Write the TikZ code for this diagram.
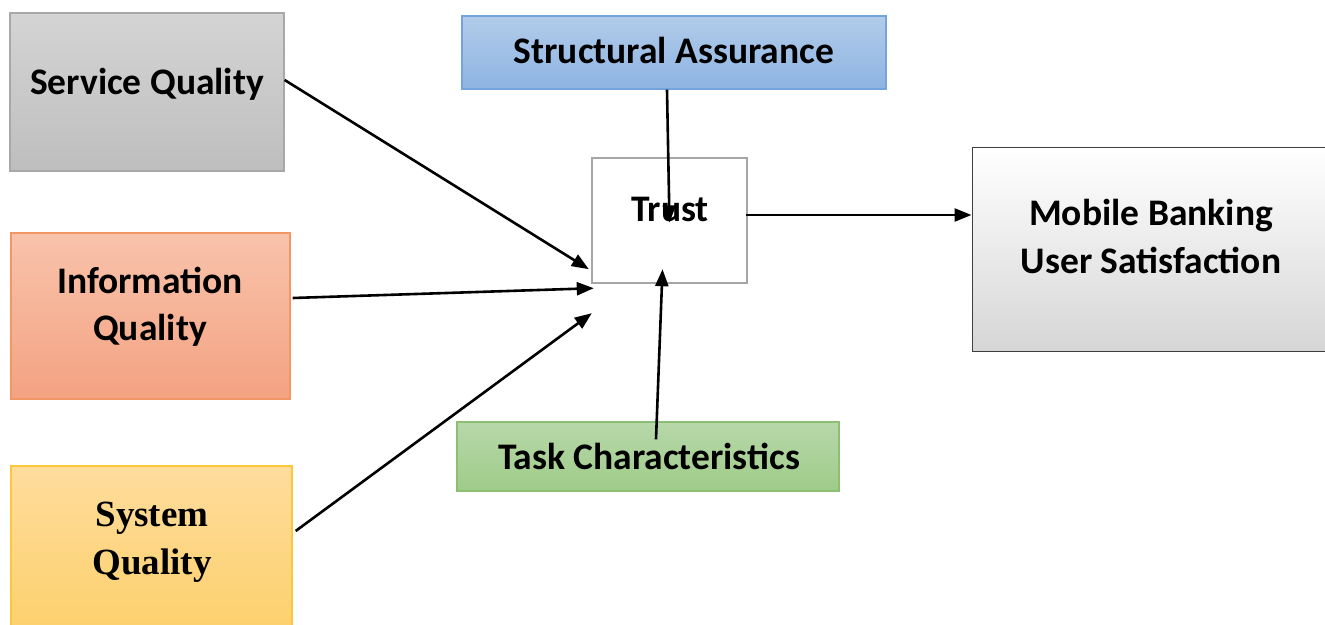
\documentclass[tikz,border=0pt]{standalone}
\usepackage{fontspec}
\setmainfont{Carlito}
\newfontfamily\tnr{Liberation Serif}
\usetikzlibrary{arrows.meta}
\definecolor{sqtop}{HTML}{D4D4D4}\definecolor{sqbot}{HTML}{BEBEBE}\definecolor{sqbd}{HTML}{A8A8A8}
\definecolor{iqtop}{HTML}{F8C3AB}\definecolor{iqbot}{HTML}{F4A282}\definecolor{iqbd}{HTML}{F29664}
\definecolor{sytop}{HTML}{FEDC9C}\definecolor{sybot}{HTML}{FDD06A}\definecolor{sybd}{HTML}{FBC83C}
\definecolor{satop}{HTML}{B2CCEA}\definecolor{sabot}{HTML}{8DB3E2}\definecolor{sabd}{HTML}{73A4DC}
\definecolor{tctop}{HTML}{B7D8A9}\definecolor{tcbot}{HTML}{9FCB89}\definecolor{tcbd}{HTML}{8CBE74}
\definecolor{trbd}{HTML}{A6A6A6}\definecolor{mbbot}{HTML}{D6D6D6}\definecolor{mbbd}{HTML}{3F3F3F}
\tikzset{
  box/.style={rectangle, inner sep=0pt, line width=1.3pt},
  lbl/.style={anchor=base, inner sep=0pt, font=\fontsize{37.5}{44}\selectfont\bfseries},
  slbl/.style={anchor=base, inner sep=0pt, font=\fontsize{37}{44}\selectfont\tnr\bfseries},
  arr/.style={line width=2.6pt, -{Triangle[length=17pt,width=13pt]}}
}
\begin{document}
\begin{tikzpicture}[x=1pt,y=-1pt]
\useasboundingbox (0,0) rectangle (1325,624);
\clip (0,0) rectangle (1325,624);
\fill[white] (0,0) rectangle (1325,624);
% boxes
\node[box, draw=sqbd, top color=sqtop, bottom color=sqbot, minimum width=274pt, minimum height=158pt] (sq) at (147,92) {};
\node[box, draw=iqbd, top color=iqtop, bottom color=iqbot, minimum width=279pt, minimum height=166pt] (iq) at (150.5,316) {};
\node[box, draw=sybd, top color=sytop, bottom color=sybot, minimum width=281pt, minimum height=174pt] (syq) at (151.5,553) {};
\node[box, draw=sabd, top color=satop, bottom color=sabot, minimum width=424pt, minimum height=73pt] (sa) at (674,52.5) {};
\node[box, draw=trbd, fill=white, line width=2.4pt, minimum width=155pt, minimum height=125pt] (tr) at (669.5,220.5) {};
\node[box, draw=tcbd, top color=tctop, bottom color=tcbot, minimum width=382pt, minimum height=69pt] (tc) at (648,456.5) {};
\node[box, draw=mbbd, top color=white, middle color=white, bottom color=mbbot, line width=1pt, minimum width=358pt, minimum height=204pt] (mb) at (1151,249) {};
% texts
\node[lbl] (sqt) at (147,94) {Service Quality};
\node[lbl] (iqt1) at (150,293) {Information};
\node[lbl] (iqt2) at (150,340) {Quality};
\node[slbl] (syt1) at (152,526) {System};
\node[slbl] (syt2) at (152,574) {Quality};
\node[lbl] (sat) at (674,63) {Structural Assurance};
\node[lbl] (trt) at (670,221) {Trust};
\node[lbl] (tct) at (649,469) {Task Characteristics};
\node[lbl] (mbt1) at (1151,225) {Mobile Banking};
\node[lbl] (mbt2) at (1151,273) {User Satisfaction};
% connectors
\draw[arr] ([yshift=12pt]sq.east) -- ([xshift=-2pt,yshift=15pt]tr.south west);
\draw[arr] ([xshift=2pt,yshift=18pt]iq.east) -- ([xshift=3pt,yshift=-4pt]tr.south west);
\draw[arr] ([xshift=3pt,yshift=22pt]syq.east) -- ([xshift=1pt,yshift=-29pt]tr.south west);
\draw[arr] ([xshift=-7pt]sa.south) -- ([yshift=-2pt]tr.center);
\draw[arr] ([xshift=8pt,yshift=-18pt]tc.north) -- ([xshift=-7pt,yshift=15pt]tr.south);
\draw[arr] ([xshift=-2pt,yshift=5.5pt]tr.east) -- ([yshift=34pt]mb.west);
\end{tikzpicture}
\end{document}
